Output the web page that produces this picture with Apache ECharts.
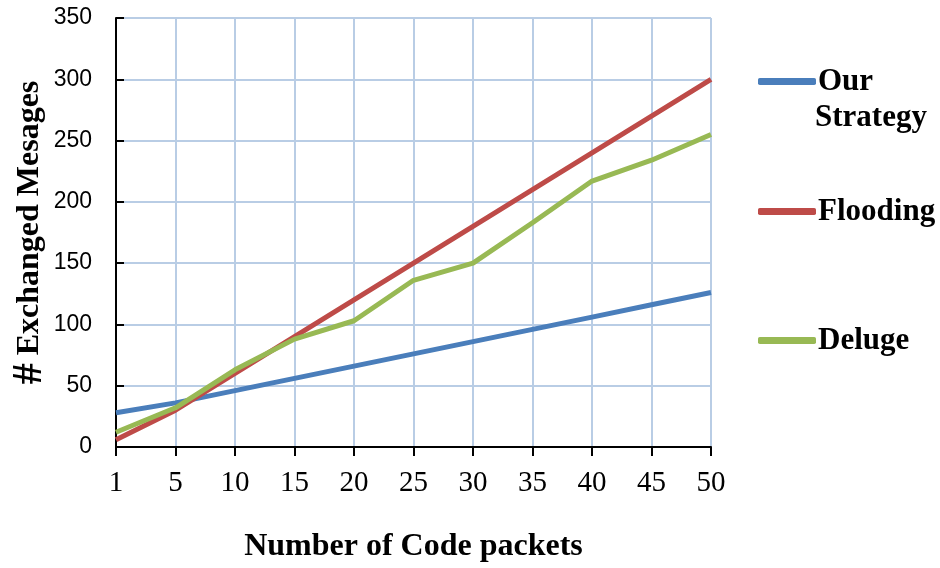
<!DOCTYPE html>
<html><head><meta charset="utf-8">
<script src="https://cdn.jsdelivr.net/npm/echarts@6/dist/echarts.min.js"></script>
<style>html,body{margin:0;padding:0;background:#fff}#c{width:940px;height:568px}</style>
</head><body><div id="c"></div>
<script>
const categories = ['1','5','10','15','20','25','30','35','40','45','50'];
const ourStrategy = [28, 36, 46, 56, 66, 76, 86, 96, 106, 116, 126];
const flooding = [6, 30, 60, 90, 120, 150, 180, 210, 240, 270, 300];
const deluge = [12, 32, 63, 88, 103, 136, 150, 183, 217, 234, 255];
const seriesNames = ['Our Strategy', 'Flooding', 'Deluge'];
const colors = ['#4a7ebb', '#be4b48', '#98b954'];

const chart = echarts.init(document.getElementById('c'));
const legendText = {fontFamily: 'Liberation Serif', fontWeight: 'bold', fontSize: 31, color: '#000', padding: [0, 0, 0, -3]};
function mkLegend(name, top, fmt) {
  return {
    data: [name], left: 753, top: top, icon: 'roundRect', itemWidth: 58, itemHeight: 7, itemGap: 0,
    selectedMode: false, formatter: fmt, textStyle: legendText
  };
}
chart.setOption({
  animation: false,
  grid: {left: 116, right: 229, top: 18, bottom: 121, containLabel: false, outerBoundsMode: 'none'},
  legend: [
    mkLegend(seriesNames[0], 61, 'Our'),
    mkLegend(seriesNames[1], 191, null),
    mkLegend(seriesNames[2], 320, null)
  ],
  graphic: [{
    type: 'text', left: 815, top: 102, silent: true,
    style: {text: 'Strategy', font: 'bold 31px "Liberation Serif"', fill: '#000'}
  }],
  xAxis: {
    type: 'category', data: categories, boundaryGap: false,
    name: 'Number of Code packets', nameLocation: 'middle', nameGap: 84,
    nameTextStyle: {fontFamily: 'Liberation Serif', fontWeight: 'bold', fontSize: 32, color: '#000'},
    axisLine: {lineStyle: {color: '#000', width: 2}},
    axisTick: {show: true, length: 9, lineStyle: {color: '#000', width: 2}},
    axisLabel: {fontFamily: 'Liberation Serif', fontSize: 29, color: '#000', margin: 22},
    splitLine: {show: true, lineStyle: {color: '#b9cde5', width: 2}}
  },
  yAxis: {
    type: 'value', min: 0, max: 350, interval: 50,
    name: '{h|#} Exchanged Mesages', nameLocation: 'middle', nameGap: 65, nameRotate: 90,
    nameMoveOverlap: false,
    nameTextStyle: {fontFamily: 'Liberation Serif', fontWeight: 'bold', fontSize: 32, color: '#000',
      rich: {h: {fontFamily: 'Liberation Serif', fontWeight: 'bold', fontSize: 42, color: '#000'}}},
    axisLine: {show: true, lineStyle: {color: '#000', width: 2}},
    axisTick: {show: true, inside: true, length: 8, lineStyle: {color: '#000', width: 2}},
    axisLabel: {fontFamily: 'Liberation Sans', fontSize: 23, color: '#000', margin: 24},
    splitLine: {show: true, lineStyle: {color: '#b9cde5', width: 2}}
  },
  series: [ourStrategy, flooding, deluge].map((d, i) => ({
    name: seriesNames[i], type: 'line', data: d, showSymbol: false, symbol: 'none',
    color: colors[i], lineStyle: {width: 5, color: colors[i]}, z: 3 + i
  }))
});
</script></body></html>
